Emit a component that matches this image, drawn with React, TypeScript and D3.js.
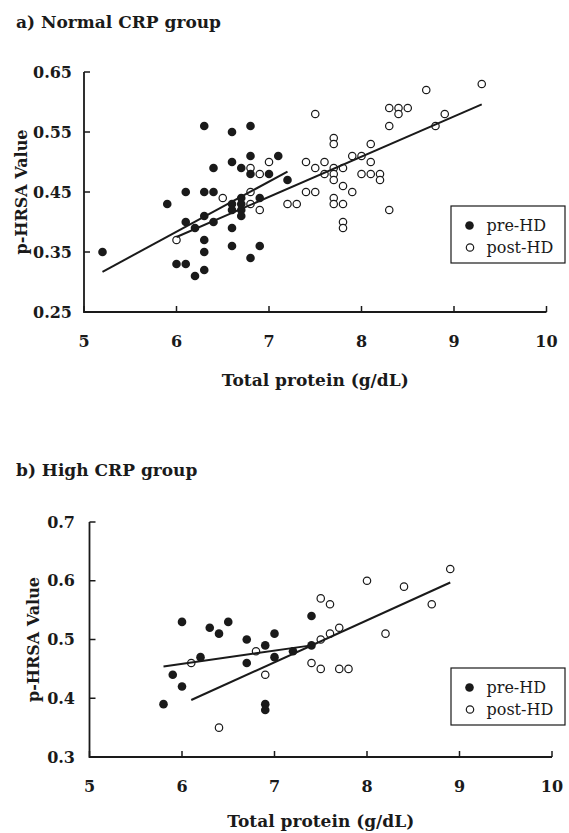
import React from "react";
import * as d3 from "d3";

// ---------- DATA ----------
const xTicks = [5, 6, 7, 8, 9, 10];
const yTicksA = [0.25, 0.35, 0.45, 0.55, 0.65];
const yTicksB = [0.3, 0.4, 0.5, 0.6, 0.7];

// a) Normal CRP group
const preA: [number, number][] = [
  [5.2, 0.35], [5.9, 0.43], [6.0, 0.33], [6.1, 0.45], [6.1, 0.4], [6.1, 0.33],
  [6.2, 0.39], [6.2, 0.31], [6.3, 0.56], [6.3, 0.45], [6.3, 0.41], [6.3, 0.37],
  [6.3, 0.35], [6.3, 0.32], [6.4, 0.49], [6.4, 0.45], [6.4, 0.4], [6.6, 0.55],
  [6.6, 0.5], [6.6, 0.43], [6.6, 0.42], [6.6, 0.39], [6.6, 0.36], [6.7, 0.49],
  [6.7, 0.44], [6.7, 0.43], [6.7, 0.42], [6.7, 0.41], [6.8, 0.56], [6.8, 0.51],
  [6.8, 0.48], [6.8, 0.34], [6.9, 0.44], [6.9, 0.36], [7.0, 0.48], [7.1, 0.51],
  [7.2, 0.47],
];
const postA: [number, number][] = [
  [6.0, 0.37], [6.5, 0.44], [6.8, 0.49], [6.8, 0.45], [6.8, 0.43], [6.9, 0.48],
  [7.0, 0.5], [6.9, 0.42], [7.2, 0.43], [7.3, 0.43], [7.4, 0.5], [7.4, 0.45],
  [7.5, 0.45], [7.5, 0.58], [7.5, 0.49], [7.6, 0.5], [7.6, 0.48], [7.7, 0.54],
  [7.7, 0.53], [7.7, 0.49], [7.7, 0.48], [7.7, 0.47], [7.8, 0.49], [7.7, 0.44],
  [7.7, 0.43], [7.8, 0.46], [7.8, 0.43], [7.8, 0.4], [7.8, 0.39], [7.9, 0.51],
  [7.9, 0.45], [8.0, 0.51], [8.0, 0.48], [8.1, 0.53], [8.1, 0.5], [8.1, 0.48],
  [8.2, 0.48], [8.2, 0.47], [8.3, 0.59], [8.3, 0.56], [8.3, 0.42], [8.4, 0.59],
  [8.5, 0.59], [8.4, 0.58], [8.7, 0.62], [8.8, 0.56], [8.9, 0.58], [9.3, 0.63],
];
const preLineA: [number, number][] = [[5.2, 0.317], [7.2, 0.484]];
const postLineA: [number, number][] = [[6.0, 0.375], [9.3, 0.596]];

// b) High CRP group
const preB: [number, number][] = [
  [5.8, 0.39], [5.9, 0.44], [6.0, 0.53], [6.0, 0.42], [6.2, 0.47], [6.3, 0.52],
  [6.4, 0.51], [6.5, 0.53], [6.7, 0.5], [6.7, 0.46], [6.9, 0.49], [6.9, 0.39],
  [6.9, 0.38], [7.0, 0.51], [7.0, 0.47], [7.2, 0.48], [7.4, 0.54], [7.4, 0.49],
];
const postB: [number, number][] = [
  [6.1, 0.46], [6.4, 0.35], [6.8, 0.48], [6.9, 0.44], [7.4, 0.46], [7.5, 0.45],
  [7.5, 0.5], [7.5, 0.57], [7.6, 0.56], [7.6, 0.51], [7.7, 0.52], [7.7, 0.45],
  [7.8, 0.45], [8.0, 0.6], [8.2, 0.51], [8.4, 0.59], [8.7, 0.56], [8.9, 0.62],
];
const preLineB: [number, number][] = [[5.8, 0.454], [7.4, 0.49]];
const postLineB: [number, number][] = [[6.1, 0.397], [8.9, 0.597]];

const legendLabels = ["pre-HD", "post-HD"];
const xTitle = "Total protein (g/dL)";
const yTitle = "p-HRSA Value";

// ---------- DRAWING ----------
const SERIF = "'DejaVu Serif', 'Liberation Serif', serif";
const INK = "#1a1a1a";

type PanelProps = {
  title: string;
  titleY: number;
  x0: number; x1: number; y0: number; y1: number;
  yDomain: [number, number];
  yTicks: number[];
  yFmt: (v: number) => string;
  pre: [number, number][];
  post: [number, number][];
  preLine: [number, number][];
  postLine: [number, number][];
  xLabelY: number;
  xTitleY: number;
  yLabelX: number;
  yTitleX: number;
  legendTop: number;
};

function Panel(p: PanelProps) {
  const x = d3.scaleLinear().domain([5, 10]).range([p.x0, p.x1]);
  const y = d3.scaleLinear().domain(p.yDomain).range([p.y0, p.y1]);
  const line = d3.line<[number, number]>().x((d) => x(d[0])).y((d) => y(d[1]));
  const tick = 6;
  return (
    <g>
      <text x={16} y={p.titleY} fontFamily={SERIF} fontWeight="bold" fontSize={17} fill={INK}>
        {p.title}
      </text>
      {/* axes */}
      <path
        d={`M${x(5)},${y(p.yDomain[1])}V${y(p.yDomain[0])}H${x(10)}`}
        fill="none" stroke={INK} strokeWidth={1.8}
      />
      {p.yTicks.map((t) => (
        <g key={"y" + t}>
          <line x1={x(5)} x2={x(5) + tick} y1={y(t)} y2={y(t)} stroke={INK} strokeWidth={1.5} />
          <text x={p.yLabelX} y={y(t)} dy="0.35em" textAnchor="end" fontFamily={SERIF}
            fontWeight="bold" fontSize={16} fill={INK}>{p.yFmt(t)}</text>
        </g>
      ))}
      {xTicks.map((t) => (
        <g key={"x" + t}>
          <line x1={x(t)} x2={x(t)} y1={y(p.yDomain[0])} y2={y(p.yDomain[0]) - tick} stroke={INK} strokeWidth={1.5} />
          <text x={x(t)} y={p.xLabelY} dy="0.35em" textAnchor="middle" fontFamily={SERIF}
            fontWeight="bold" fontSize={16} fill={INK}>{t}</text>
        </g>
      ))}
      <text x={(x(5) + x(10)) / 2} y={p.xTitleY} dy="0.35em" textAnchor="middle" fontFamily={SERIF}
        fontWeight="bold" fontSize={17} fill={INK}>{xTitle}</text>
      <text transform={`translate(${p.yTitleX},${(p.y0 + p.y1) / 2}) rotate(-90)`} dy="0.35em" textAnchor="middle"
        fontFamily={SERIF} fontWeight="bold" fontSize={16} fill={INK}>{yTitle}</text>
      {/* points */}
      {p.post.map((d, i) => (
        <circle key={"o" + i} cx={x(d[0])} cy={y(d[1])} r={3.7} fill="#fff" stroke={INK} strokeWidth={1.2} />
      ))}
      {p.pre.map((d, i) => (
        <circle key={"f" + i} cx={x(d[0])} cy={y(d[1])} r={4.3} fill={INK} />
      ))}
      {/* trend lines */}
      <path d={line(p.preLine) || ""} fill="none" stroke={INK} strokeWidth={2} />
      <path d={line(p.postLine) || ""} fill="none" stroke={INK} strokeWidth={2} />
      {/* legend */}
      <g transform={`translate(451,${p.legendTop})`}>
        <rect x={0} y={0} width={114} height={57} fill="#fff" stroke={INK} strokeWidth={1.2} />
        <circle cx={18.5} cy={19.5} r={4.3} fill={INK} />
        <text x={35.5} y={19.5} dy="0.35em" fontFamily={SERIF} fontSize={16} fill={INK}>{legendLabels[0]}</text>
        <circle cx={19} cy={41.5} r={3.7} fill="#fff" stroke={INK} strokeWidth={1.2} />
        <text x={35.5} y={41.5} dy="0.35em" fontFamily={SERIF} fontSize={16} fill={INK}>{legendLabels[1]}</text>
      </g>
    </g>
  );
}

export default function App() {
  return (
    <svg width={569} height={833} style={{ position: "absolute", left: 0, top: 0, background: "#fff" }}>
      <rect width={569} height={833} fill="#fff" />
      <Panel
        title="a) Normal CRP group" titleY={28}
        x0={84} x1={546.5} y0={312} y1={72}
        yDomain={[0.25, 0.65]} yTicks={yTicksA} yFmt={(v) => v.toFixed(2)}
        pre={preA} post={postA} preLine={preLineA} postLine={postLineA}
        xLabelY={341} xTitleY={380} yLabelX={72} yTitleX={21} legendTop={206}
      />
      <Panel
        title="b) High CRP group" titleY={476}
        x0={89.5} x1={552} y0={757} y1={522}
        yDomain={[0.3, 0.7]} yTicks={yTicksB} yFmt={(v) => v.toFixed(1)}
        pre={preB} post={postB} preLine={preLineB} postLine={postLineB}
        xLabelY={786} xTitleY={821} yLabelX={75} yTitleX={33} legendTop={668}
      />
    </svg>
  );
}
